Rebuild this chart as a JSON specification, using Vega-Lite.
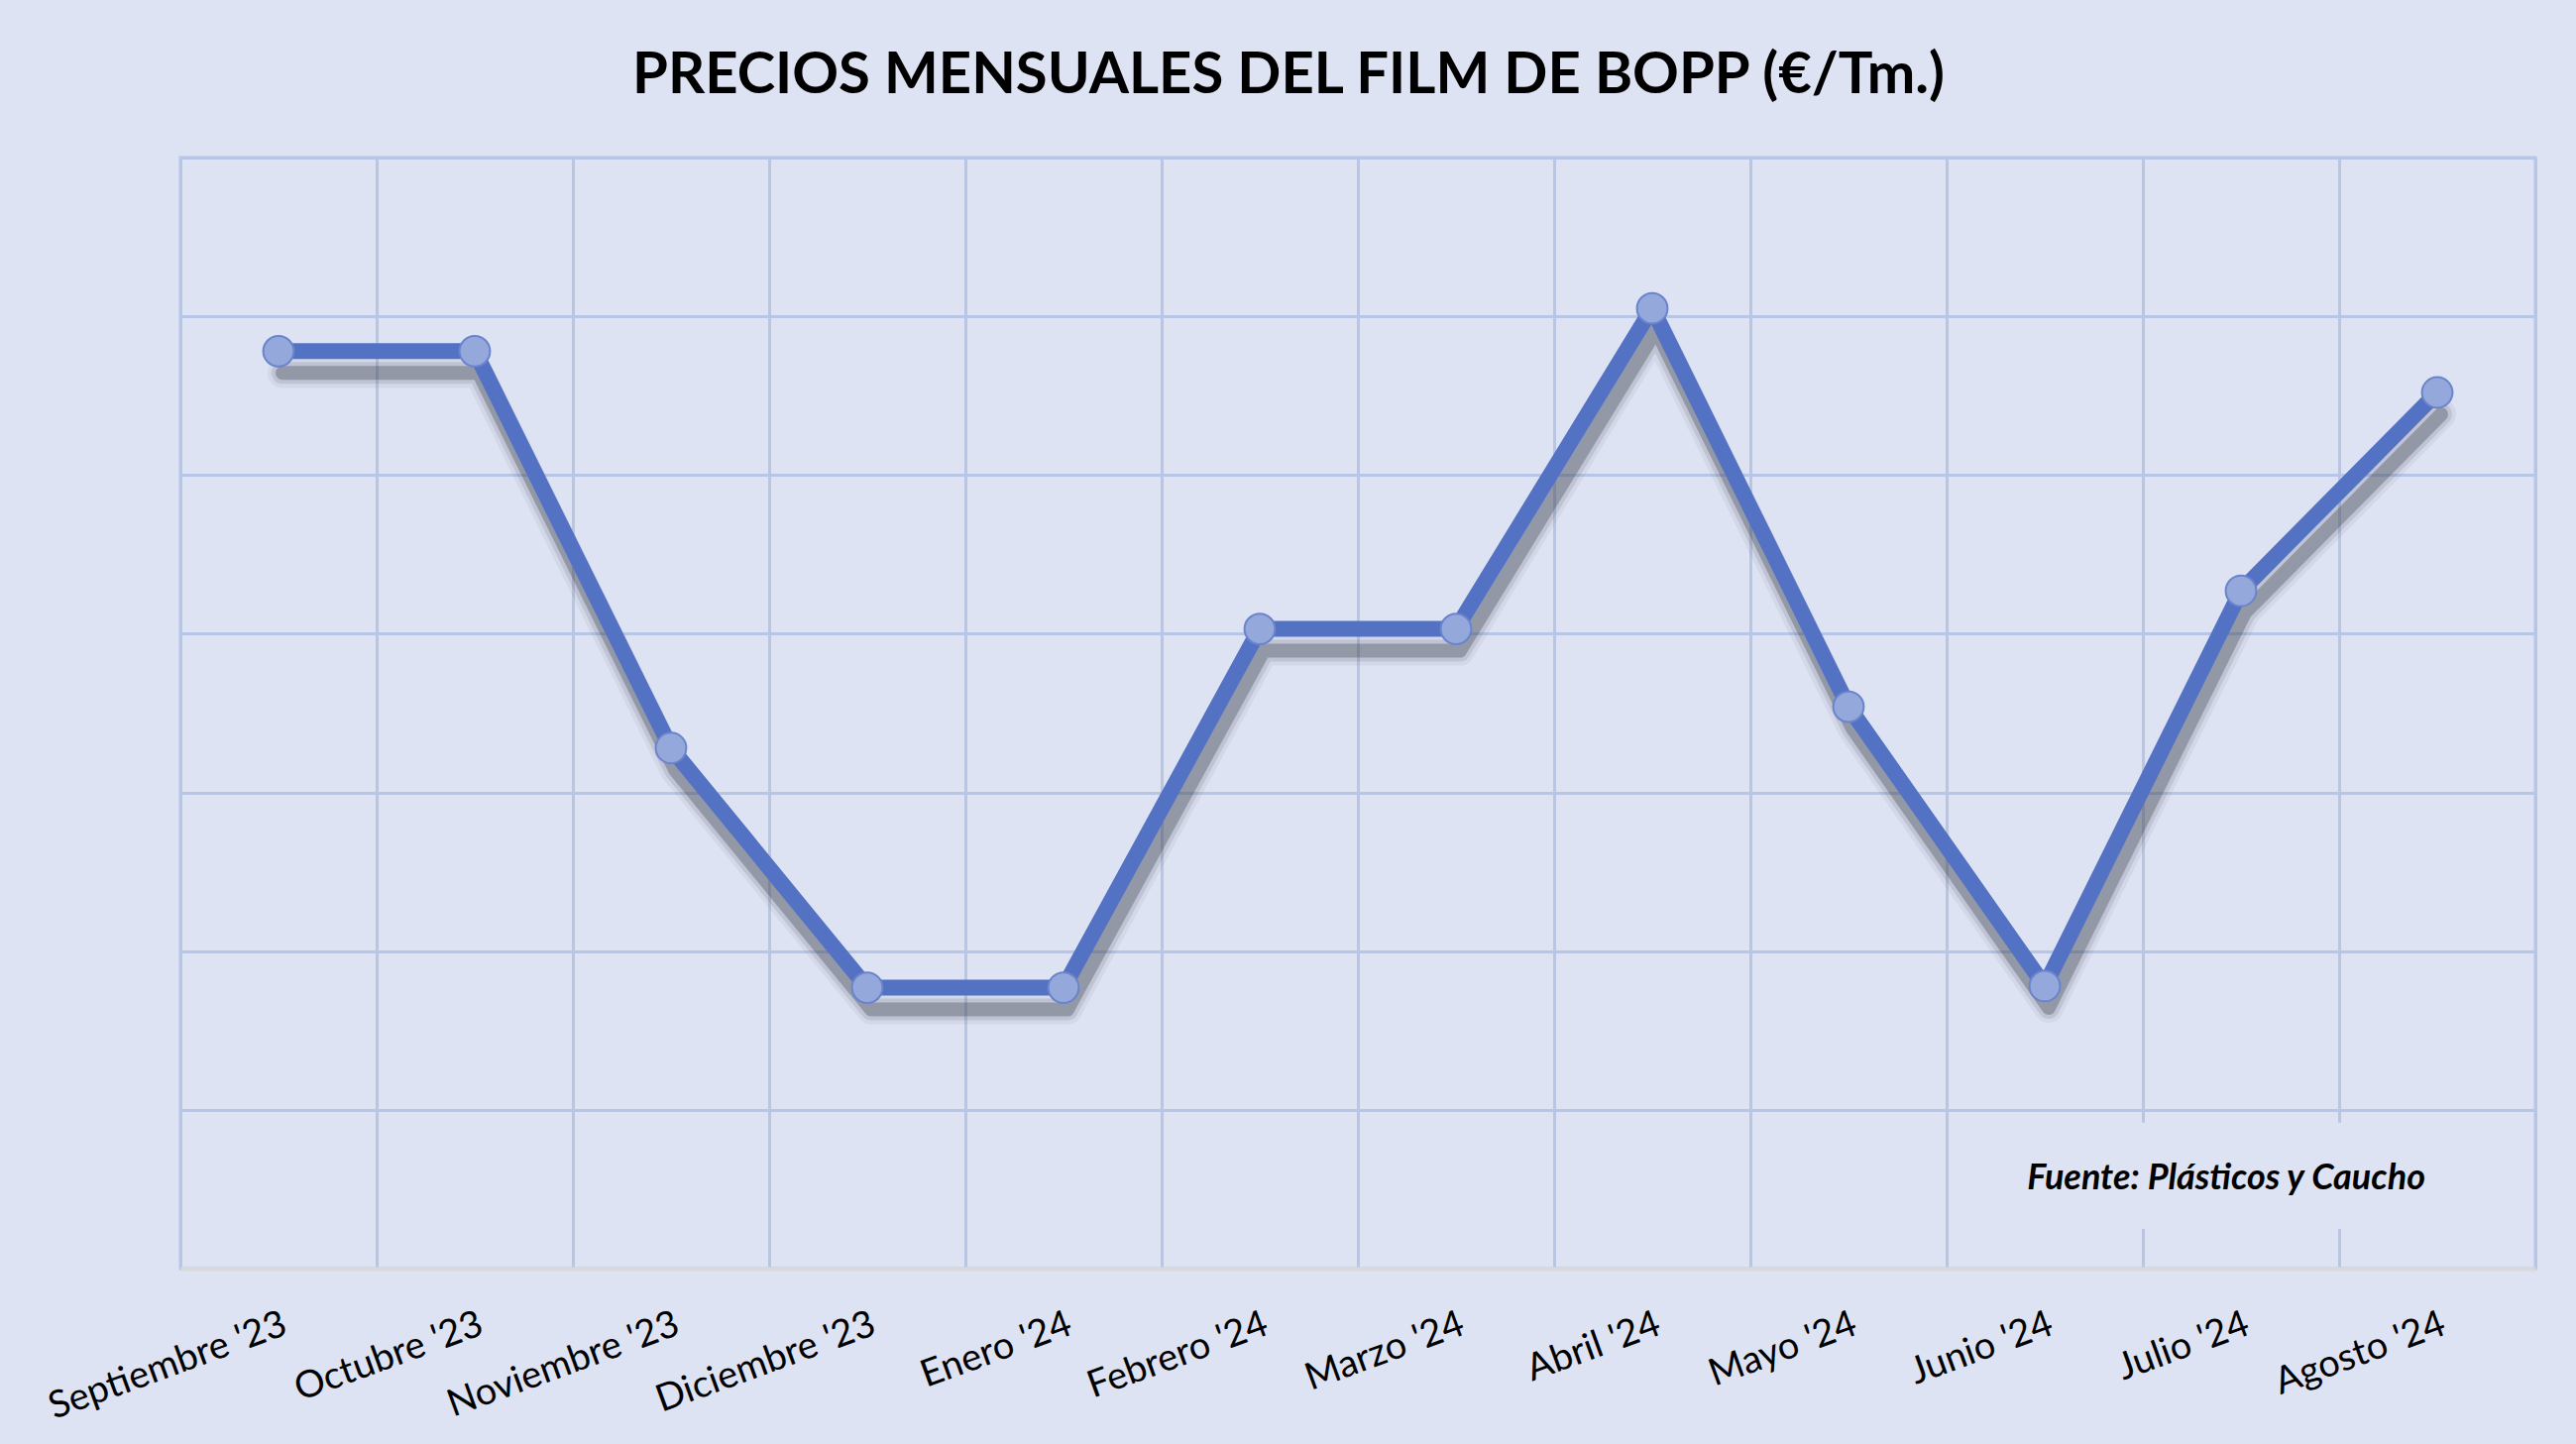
{
  "$schema": "https://vega.github.io/schema/vega-lite/v6.json",
  "width": 2376,
  "height": 1121,
  "autosize": {"type": "none"},
  "padding": {"left": 182, "top": 159, "right": 41, "bottom": 177},
  "background": "#dde3f3",
  "config": {
    "view": {"stroke": "#b7c6e6", "strokeWidth": 3, "fill": "#dde3f3"},
    "font": "Lato"
  },
  "title": {
    "text": "PRECIOS MENSUALES DEL FILM DE BOPP (€/Tm.)",
    "font": "Lato",
    "fontSize": 58,
    "fontWeight": "bold",
    "color": "#000000",
    "anchor": "middle",
    "dx": -70,
    "offset": 7,
    "baseline": "alphabetic"
  },
  "data": {
    "values": [
      {"mes": "Septiembre '23", "precio": 1978},
      {"mes": "Octubre '23", "precio": 1978},
      {"mes": "Noviembre '23", "precio": 1728},
      {"mes": "Diciembre '23", "precio": 1577},
      {"mes": "Enero '24", "precio": 1577},
      {"mes": "Febrero '24", "precio": 1803},
      {"mes": "Marzo '24", "precio": 1803},
      {"mes": "Abril '24", "precio": 2005},
      {"mes": "Mayo '24", "precio": 1754},
      {"mes": "Junio '24", "precio": 1578},
      {"mes": "Julio '24", "precio": 1827},
      {"mes": "Agosto '24", "precio": 1952}
    ]
  },
  "encoding": {
    "x": {
      "field": "mes",
      "type": "nominal",
      "sort": null,
      "scale": {
        "type": "band",
        "paddingInner": 0,
        "paddingOuter": 0,
        "domain": ["Septiembre '23", "Octubre '23", "Noviembre '23", "Diciembre '23", "Enero '24", "Febrero '24", "Marzo '24", "Abril '24", "Mayo '24", "Junio '24", "Julio '24", "Agosto '24"]
      },
      "axis": {
        "title": null,
        "zindex": 0,
        "labelAngle": -20,
        "labelAlign": "right",
        "labelBaseline": "top",
        "labelPadding": 37,
        "labelLimit": 0,
        "ticks": false,
        "grid": true,
        "tickBand": "extent",
        "gridColor": "#b7c6e6",
        "gridWidth": 3,
        "domainColor": "#d9d9d9",
        "domainWidth": 4,
        "labelFont": "Lato",
        "labelFontSize": 38,
        "labelColor": "#000000",
        "labelOverlap": false,
        "labelBound": false
      }
    },
    "y": {
      "field": "precio",
      "type": "quantitative",
      "scale": {"domain": [1400, 2100], "nice": false, "zero": false},
      "axis": {
        "title": null,
        "zindex": 0,
        "labels": false,
        "ticks": false,
        "domain": false,
        "grid": true,
        "values": [1400, 1500, 1600, 1700, 1800, 1900, 2000, 2100],
        "gridColor": "#b7c6e6",
        "gridWidth": 3
      }
    }
  },
  "layer": [
    {
      "transform": [{"filter": "datum.mes === 'Agosto \\'24'"}],
      "mark": {"type": "rect", "fill": "#dde3f3"},
      "encoding": {
        "x": {"datum": "Junio '24", "type": "nominal", "bandPosition": 0.3},
        "x2": {"datum": "Agosto '24", "bandPosition": 0.95},
        "y": {"datum": 1425, "type": "quantitative"},
        "y2": {"datum": 1492}
      }
    },
    {
      "mark": {"type": "line", "color": "#30343f", "strokeWidth": 30, "opacity": 0.06, "xOffset": 4, "yOffset": 22, "strokeJoin": "round", "strokeCap": "round"}
    },
    {
      "mark": {"type": "line", "color": "#30343f", "strokeWidth": 22, "opacity": 0.12, "xOffset": 4, "yOffset": 22, "strokeJoin": "round", "strokeCap": "round"}
    },
    {
      "mark": {"type": "line", "color": "#30343f", "strokeWidth": 14, "opacity": 0.3, "xOffset": 4, "yOffset": 22, "strokeJoin": "round", "strokeCap": "round"}
    },
    {
      "mark": {"type": "line", "color": "#5472c4", "strokeWidth": 16}
    },
    {
      "mark": {"type": "point", "shape": "circle", "filled": true, "fill": "#94a8dc", "stroke": "#6a84cc", "strokeWidth": 2, "size": 950, "opacity": 1}
    },
    {
      "transform": [{"filter": "datum.mes === 'Agosto \\'24'"}],
      "mark": {"type": "text", "font": "Lato", "fontSize": 36, "fontWeight": "bold", "fontStyle": "italic", "align": "right", "baseline": "alphabetic", "dx": -12, "color": "#000000"},
      "encoding": {
        "y": {"datum": 1450, "type": "quantitative"},
        "text": {"value": "Fuente: Plásticos y Caucho"}
      }
    }
  ]
}
